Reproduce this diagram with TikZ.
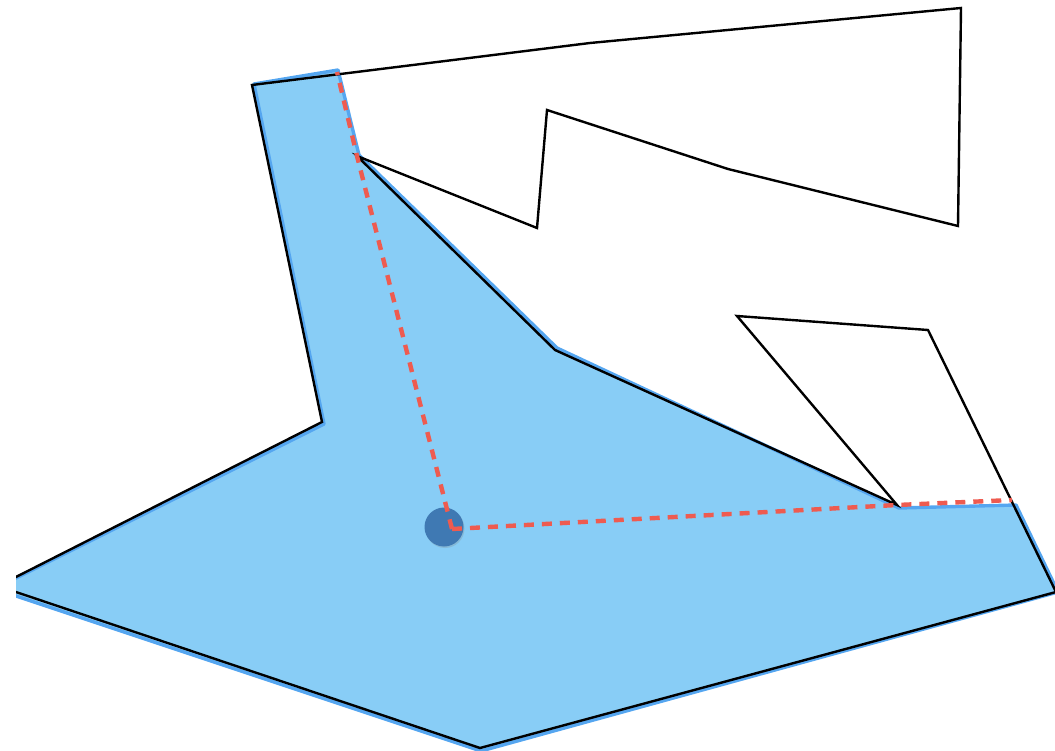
\documentclass[tikz,border=0pt]{standalone}
\usepackage{tikz}
\usetikzlibrary{shadows}
\definecolor{visfill}{HTML}{88CDF6}
\definecolor{visedge}{HTML}{55A6F0}
\definecolor{guard}{HTML}{3F79B3}
\definecolor{ray}{HTML}{EE5B50}

\begin{document}
\begin{tikzpicture}[
            x=1pt, y=-1pt,
            wall/.style={draw=black, line width=2.4pt, line join=miter},
            visible/.style={fill=visfill, draw=visedge, line width=3.4pt, line join=round},
            sight/.style={draw=ray, line width=4.4pt, dash pattern=on 10pt off 8pt},
            viewer/.style={circle, fill=guard, inner sep=0pt, minimum size=39pt,
                           drop shadow={opacity=0.25, shadow xshift=1pt, shadow yshift=-1.5pt}}
          ]
          \useasboundingbox (0,0) rectangle (1055,751);
          \clip (16,0) rectangle (1055,751);
          % polygon corners
          \coordinate (tl) at (252,85);
          \coordinate (tm) at (590,43);
          \coordinate (tr) at (961,8);
          \coordinate (rb) at (958,226);
          \coordinate (nb) at (728,169);
          \coordinate (nt) at (547,110);
          \coordinate (nl) at (537,228);
          \coordinate (r1) at (357,156);
          \coordinate (mid) at (555,350);
          \coordinate (r2) at (897,505);
          \coordinate (pl) at (737,316);
          \coordinate (pr) at (928,330);
          \coordinate (re) at (1056,592);
          \coordinate (bt) at (480,748);
          \coordinate (lb) at (10,590);
          \coordinate (lt) at (10,580);
          \coordinate (in) at (322,422);
          % visible part
          \filldraw[visible] (254,84) -- (338,70) -- (359,155) -- (557,348) -- (899,508)
            -- (1016,505) -- (1058,592) -- (481,751) -- (10,594) -- (10,581)
            -- (324,424) -- cycle;
          % walls
          \draw[wall] (tl) -- (tm) -- (tr) -- (rb) -- (nb) -- (nt) -- (nl) -- (r1)
            -- (mid) -- (r2) -- (pl) -- (pr) -- (re) -- (bt) -- (lb) -- (lt)
            -- (in) -- cycle;
          % viewpoint and sight lines
          \node[viewer] (eye) at (444,527) {};
          \coordinate (o) at (452,529);
          \coordinate (h1) at (337,72);
          \coordinate (h2) at (1012,500);
          \draw[sight] (o) -- (r1) -- (h1);
          \draw[sight] (o) -- (r2) -- (h2);
        \end{tikzpicture}
\end{document}
